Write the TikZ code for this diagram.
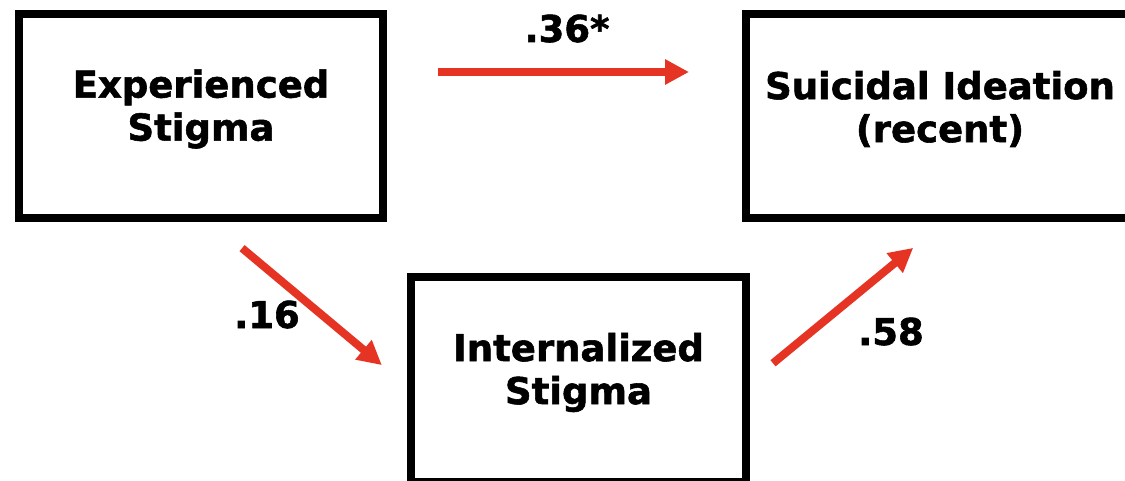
\documentclass[tikz,border=0pt]{standalone}
\usepackage{fontspec}
\setmainfont{DejaVu Sans}[BoldFeatures={FakeBold=1.5}]
\usetikzlibrary{arrows.meta}
\definecolor{arrowred}{RGB}{230,52,36}

\begin{document}
\begin{tikzpicture}[x=1pt,y=1pt]
\begin{scope}

\tikzstyle{boxnode} = [draw=black,line width=8pt,minimum height=204pt,inner sep=0pt,outer sep=0pt];
\tikzstyle{textnode} = [align=center,inner sep=0pt,font=\fontsize{37}{43}\selectfont\bfseries];
\tikzstyle{coefnode} = [anchor=base,inner sep=0pt,font=\fontsize{37}{43}\selectfont\bfseries];
\tikzstyle{patharrow} = [draw=arrowred,line width=8pt,-{Triangle[length=24pt,width=24pt]}];

\useasboundingbox (0,0) rectangle (1125,-481);

\node [boxnode,anchor=north west,minimum width=364pt] (exp) at (19,-14) {};
\node [boxnode,anchor=north west,minimum width=388pt] (sui) at ([xshift=363pt]exp.north east) {};
\node [boxnode,anchor=north west,minimum width=335pt,minimum height=205pt] (int) at ([xshift=28pt,yshift=-59pt]exp.south east) {};

\node [textnode] (exptext) at ([yshift=7pt]exp.center) {Experienced\\Stigma};
\node [textnode] (suitext) at ([yshift=7pt]sui.center) {Suicidal Ideation\\(recent)};
\node [textnode] (inttext) at ([yshift=7pt]int.center) {Internalized\\Stigma};

\node [coefnode] (c1) at (567,-42) {.36*};
\node [coefnode] (c2) at (267,-328) {.16};
\node [coefnode] (c3) at (891,-345) {.58};

\draw [patharrow,shorten <=55pt,shorten >=57pt] ([yshift=44pt]exp.east) -- ([yshift=44pt]sui.west);
\draw [patharrow,shorten <=47pt,shorten >=38pt] ([xshift=5pt]exp.south) -- ([yshift=-10pt]int.west);
\draw [patharrow,shorten <=35pt,shorten >=47pt] ([yshift=-6pt]int.east) -- ([xshift=9.5pt]sui.south);

\end{scope}
\end{tikzpicture}
\end{document}
